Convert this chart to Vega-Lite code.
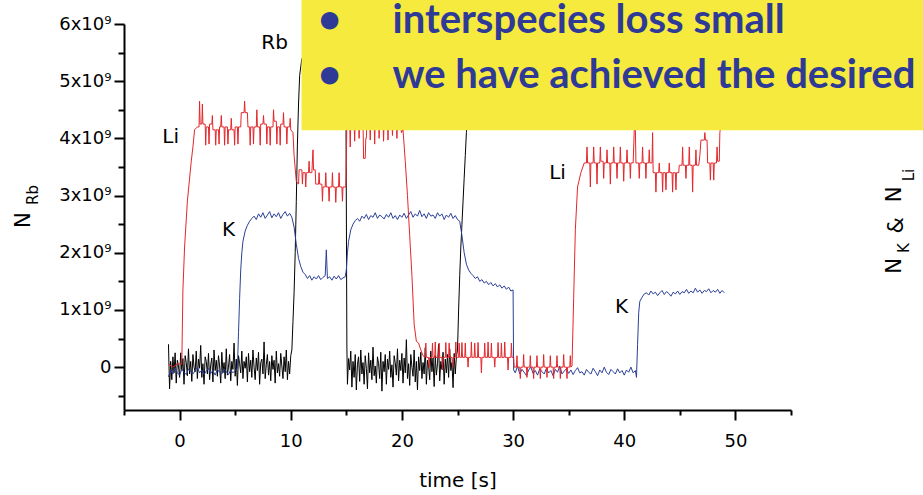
{
"$schema": "https://vega.github.io/schema/vega-lite/v6.json",
"width": 667, "height": 386,
"autosize": {"type": "none"},
"padding": {"left": 124, "top": 24, "right": 132, "bottom": 85},
"background": "white",
"config": {
 "view": {"stroke": null},
 "axis": {"domainColor": "#000", "domainWidth": 2, "tickColor": "#000", "tickWidth": 2, "labelFont": "DejaVu Sans", "labelFontSize": 18, "labelColor": "#000", "titleFont": "DejaVu Sans", "titleFontSize": 20, "titleFontWeight": "normal", "titleColor": "#000", "grid": false, "labelOverlap": false, "labelFlush": false, "labelBound": false}
},
"datasets": {
 "rb": [{"t":-1,"v":0.4e9},{"t":-0.9,"v":-0.38e9},{"t":-0.8,"v":0.1e9},{"t":-0.7,"v":-0.22e9},{"t":-0.6,"v":0.18e9},{"t":-0.5,"v":-0.1e9},{"t":-0.4,"v":0.25e9},{"t":-0.3,"v":-0.28e9},{"t":-0.2,"v":0.12e9},{"t":-0.1,"v":0.02e9},{"t":0,"v":-0.18e9},{"t":0.1,"v":0.25e9},{"t":0.2,"v":-0.05e9},{"t":0.3,"v":0.15e9},{"t":0.4,"v":-0.3e9},{"t":0.5,"v":0.2e9},{"t":0.6,"v":0.08e9},{"t":0.7,"v":-0.15e9},{"t":0.8,"v":0.32e9},{"t":0.9,"v":-0.12e9},{"t":1,"v":0.1e9},{"t":1.1,"v":-0.25e9},{"t":1.2,"v":0.22e9},{"t":1.3,"v":0},{"t":1.4,"v":-0.08e9},{"t":1.5,"v":0.28e9},{"t":1.6,"v":-0.2e9},{"t":1.7,"v":0.14e9},{"t":1.8,"v":-0.02e9},{"t":1.9,"v":0.38e9},{"t":2,"v":-0.18e9},{"t":2.1,"v":0.06e9},{"t":2.2,"v":-0.3e9},{"t":2.3,"v":0.18e9},{"t":2.4,"v":0.1e9},{"t":2.5,"v":-0.12e9},{"t":2.6,"v":0.24e9},{"t":2.7,"v":-0.22e9},{"t":2.8,"v":0.04e9},{"t":2.9,"v":0.16e9},{"t":3,"v":-0.26e9},{"t":3.1,"v":0.3e9},{"t":3.2,"v":-0.06e9},{"t":3.3,"v":0.12e9},{"t":3.4,"v":-0.16e9},{"t":3.5,"v":0.2e9},{"t":3.6,"v":0.02e9},{"t":3.7,"v":-0.28e9},{"t":3.8,"v":0.26e9},{"t":3.9,"v":-0.1e9},{"t":4,"v":0.08e9},{"t":4.1,"v":-0.2e9},{"t":4.2,"v":0.32e9},{"t":4.3,"v":-0.14e9},{"t":4.4,"v":0},{"t":4.5,"v":0.22e9},{"t":4.6,"v":-0.24e9},{"t":4.7,"v":0.1e9},{"t":4.8,"v":-0.04e9},{"t":4.9,"v":0.42e9},{"t":5,"v":-0.16e9},{"t":5.1,"v":0.14e9},{"t":5.2,"v":-0.32e9},{"t":5.3,"v":0.2e9},{"t":5.4,"v":0.06e9},{"t":5.5,"v":-0.1e9},{"t":5.6,"v":0.28e9},{"t":5.7,"v":-0.2e9},{"t":5.8,"v":0.1e9},{"t":5.9,"v":-0.02e9},{"t":6,"v":0.18e9},{"t":6.1,"v":-0.26e9},{"t":6.2,"v":0.24e9},{"t":6.3,"v":-0.08e9},{"t":6.4,"v":0.12e9},{"t":6.5,"v":-0.18e9},{"t":6.6,"v":0.3e9},{"t":6.7,"v":0},{"t":6.8,"v":-0.22e9},{"t":6.9,"v":0.16e9},{"t":7,"v":-0.06e9},{"t":7.1,"v":0.26e9},{"t":7.2,"v":-0.3e9},{"t":7.3,"v":0.08e9},{"t":7.4,"v":0.14e9},{"t":7.5,"v":-0.12e9},{"t":7.6,"v":0.44e9},{"t":7.7,"v":-0.2e9},{"t":7.8,"v":0.04e9},{"t":7.9,"v":0.22e9},{"t":8,"v":-0.14e9},{"t":8.1,"v":0.1e9},{"t":8.2,"v":-0.24e9},{"t":8.3,"v":0.2e9},{"t":8.4,"v":-0.04e9},{"t":8.5,"v":0.12e9},{"t":8.6,"v":-0.28e9},{"t":8.7,"v":0.28e9},{"t":8.8,"v":-0.1e9},{"t":8.9,"v":0.06e9},{"t":9,"v":-0.16e9},{"t":9.1,"v":0.24e9},{"t":9.2,"v":0.02e9},{"t":9.3,"v":-0.2e9},{"t":9.4,"v":0.18e9},{"t":9.5,"v":-0.08e9},{"t":9.6,"v":0.3e9},{"t":9.7,"v":-0.22e9},{"t":9.8,"v":0.1e9},{"t":9.9,"v":-0.12e9},{"t":10,"v":0.2e9},{"t":10.1,"v":0.3e9},{"t":10.2,"v":0.8e9},{"t":10.3,"v":1.3e9},{"t":10.4,"v":2e9},{"t":10.5,"v":2.9e9},{"t":10.6,"v":3.9e9},{"t":10.7,"v":4.6e9},{"t":10.8,"v":5.1e9},{"t":11,"v":5.4e9},{"t":14.95,"v":5.4e9},{"t":15.05,"v":0.35e9},
  {"t":15.1,"v":-0.3e9},{"t":15.2,"v":0.15e9},{"t":15.3,"v":-0.05e9},{"t":15.4,"v":0.28e9},{"t":15.5,"v":-0.35e9},{"t":15.6,"v":0.1e9},{"t":15.7,"v":-0.18e9},{"t":15.8,"v":0.22e9},{"t":15.9,"v":-0.4e9},{"t":16,"v":0.05e9},{"t":16.1,"v":0.18e9},{"t":16.2,"v":-0.25e9},{"t":16.3,"v":0.3e9},{"t":16.4,"v":-0.12e9},{"t":16.5,"v":0.08e9},{"t":16.6,"v":-0.3e9},{"t":16.7,"v":0.2e9},{"t":16.8,"v":-0.02e9},{"t":16.9,"v":-0.38e9},{"t":17,"v":0.25e9},{"t":17.1,"v":-0.1e9},{"t":17.2,"v":0.12e9},{"t":17.3,"v":-0.22e9},{"t":17.4,"v":0.35e9},{"t":17.5,"v":-0.15e9},{"t":17.6,"v":0.02e9},{"t":17.7,"v":-0.28e9},{"t":17.8,"v":0.18e9},{"t":17.9,"v":0.06e9},{"t":18,"v":-0.2e9},{"t":18.1,"v":0.26e9},{"t":18.2,"v":-0.42e9},{"t":18.3,"v":0.1e9},{"t":18.4,"v":-0.08e9},{"t":18.5,"v":0.22e9},{"t":18.6,"v":-0.3e9},{"t":18.7,"v":0.14e9},{"t":18.8,"v":-0.04e9},{"t":18.9,"v":0.28e9},{"t":19,"v":-0.18e9},{"t":19.1,"v":0.04e9},{"t":19.2,"v":-0.35e9},{"t":19.3,"v":0.2e9},{"t":19.4,"v":0.08e9},{"t":19.5,"v":-0.14e9},{"t":19.6,"v":0.32e9},{"t":19.7,"v":-0.24e9},{"t":19.8,"v":0.12e9},{"t":19.9,"v":-0.06e9},{"t":20,"v":0.24e9},{"t":20.1,"v":-0.28e9},{"t":20.2,"v":0.16e9},{"t":20.3,"v":-0.1e9},{"t":20.4,"v":0.48e9},{"t":20.5,"v":-0.2e9},{"t":20.6,"v":0.06e9},{"t":20.7,"v":-0.32e9},{"t":20.8,"v":0.22e9},{"t":20.9,"v":0},{"t":21,"v":-0.16e9},{"t":21.1,"v":0.3e9},{"t":21.2,"v":-0.26e9},{"t":21.3,"v":0.1e9},{"t":21.4,"v":-0.4e9},{"t":21.5,"v":0.18e9},{"t":21.6,"v":-0.06e9},{"t":21.7,"v":0.26e9},{"t":21.8,"v":-0.2e9},{"t":21.9,"v":0.08e9},{"t":22,"v":-0.12e9},{"t":22.1,"v":0.34e9},{"t":22.2,"v":-0.3e9},{"t":22.3,"v":0.12e9},{"t":22.4,"v":0.02e9},{"t":22.5,"v":-0.22e9},{"t":22.6,"v":0.28e9},{"t":22.7,"v":-0.08e9},{"t":22.8,"v":0.16e9},{"t":22.9,"v":-0.34e9},{"t":23,"v":0.2e9},{"t":23.1,"v":-0.14e9},{"t":23.2,"v":0.06e9},{"t":23.3,"v":0.4e9},{"t":23.4,"v":-0.24e9},{"t":23.5,"v":0.1e9},{"t":23.6,"v":-0.04e9},{"t":23.7,"v":0.26e9},{"t":23.8,"v":-0.3e9},{"t":23.9,"v":0.14e9},{"t":24,"v":-0.1e9},{"t":24.1,"v":0.22e9},{"t":24.2,"v":-0.18e9},{"t":24.3,"v":0.32e9},{"t":24.4,"v":-0.06e9},{"t":24.5,"v":0.08e9},{"t":24.6,"v":-0.36e9},{"t":24.7,"v":0.24e9},{"t":24.8,"v":-0.12e9},{"t":24.9,"v":0.18e9},{"t":25,"v":0.3e9},{"t":25.1,"v":1e9},{"t":25.2,"v":1.6e9},{"t":25.3,"v":2.1e9},{"t":25.4,"v":2.5e9},{"t":25.5,"v":2.9e9},{"t":25.6,"v":3.3e9},{"t":25.7,"v":3.7e9},{"t":25.8,"v":4.1e9},{"t":25.9,"v":4.5e9},{"t":26.1,"v":5e9},{"t":26.5,"v":5.4e9},{"t":49,"v":5.4e9}],
 "k": [{"t":-1,"v":-0.17e7},{"t":-0.8,"v":-0.05e7},{"t":-0.6,"v":-0.12e7},{"t":-0.4,"v":-0.02e7},{"t":-0.2,"v":-0.1e7},{"t":0,"v":-0.14e7},{"t":0.2,"v":-0.04e7},{"t":0.4,"v":-0.09e7},{"t":0.6,"v":-0.13e7},{"t":0.8,"v":-0.03e7},{"t":1,"v":-0.08e7},{"t":1.2,"v":-0.12e7},{"t":1.4,"v":-0.06e7},{"t":1.6,"v":0},{"t":1.8,"v":-0.1e7},{"t":2,"v":-0.05e7},{"t":2.2,"v":-0.13e7},{"t":2.4,"v":-0.07e7},{"t":2.6,"v":-0.02e7},{"t":2.8,"v":-0.11e7},{"t":3,"v":-0.06e7},{"t":3.2,"v":-0.14e7},{"t":3.4,"v":-0.04e7},{"t":3.6,"v":-0.09e7},{"t":3.8,"v":-0.12e7},{"t":4,"v":-0.03e7},{"t":4.2,"v":-0.08e7},{"t":4.4,"v":-0.13e7},{"t":4.6,"v":-0.05e7},{"t":4.8,"v":-0.1e7},{"t":5,"v":-0.06e7},{"t":5.2,"v":-0.02e7},{"t":5.3,"v":0.6e7},{"t":5.4,"v":1.2e7},{"t":5.5,"v":1.7e7},{"t":5.6,"v":2e7},{"t":5.7,"v":2.2e7},{"t":5.9,"v":2.38e7},{"t":6.1,"v":2.48e7},{"t":6.3,"v":2.55e7},{"t":6.5,"v":2.6e7},{"t":6.7,"v":2.64e7},{"t":6.9,"v":2.58e7},{"t":7.1,"v":2.68e7},{"t":7.3,"v":2.62e7},{"t":7.5,"v":2.7e7},{"t":7.7,"v":2.6e7},{"t":7.9,"v":2.66e7},{"t":8.1,"v":2.72e7},{"t":8.3,"v":2.61e7},{"t":8.5,"v":2.68e7},{"t":8.7,"v":2.63e7},{"t":8.9,"v":2.7e7},{"t":9.1,"v":2.6e7},{"t":9.3,"v":2.67e7},{"t":9.5,"v":2.72e7},{"t":9.7,"v":2.64e7},{"t":9.9,"v":2.69e7},{"t":10.1,"v":2.62e7},{"t":10.3,"v":2.45e7},{"t":10.5,"v":2.15e7},{"t":10.7,"v":1.9e7},{"t":10.9,"v":1.76e7},{"t":11.1,"v":1.66e7},{"t":11.3,"v":1.62e7},{"t":11.5,"v":1.55e7},{"t":11.7,"v":1.6e7},{"t":11.9,"v":1.52e7},{"t":12.1,"v":1.58e7},{"t":12.3,"v":1.54e7},{"t":12.5,"v":1.6e7},{"t":12.7,"v":1.53e7},{"t":12.9,"v":1.57e7},{"t":13.1,"v":1.6e7},{"t":13.2,"v":2.05e7},{"t":13.3,"v":1.55e7},{"t":13.5,"v":1.58e7},{"t":13.7,"v":1.52e7},{"t":13.9,"v":1.59e7},{"t":14.1,"v":1.54e7},{"t":14.3,"v":1.6e7},{"t":14.5,"v":1.53e7},{"t":14.7,"v":1.56e7},{"t":14.9,"v":1.58e7},{"t":15,"v":1.7e7},{"t":15.1,"v":2e7},{"t":15.2,"v":2.2e7},{"t":15.4,"v":2.4e7},{"t":15.6,"v":2.5e7},{"t":15.8,"v":2.56e7},{"t":16,"v":2.6e7},{"t":16.2,"v":2.55e7},{"t":16.4,"v":2.64e7},{"t":16.6,"v":2.6e7},{"t":16.8,"v":2.67e7},{"t":17,"v":2.58e7},{"t":17.2,"v":2.65e7},{"t":17.4,"v":2.62e7},{"t":17.6,"v":2.7e7},{"t":17.8,"v":2.6e7},{"t":18,"v":2.66e7},{"t":18.2,"v":2.63e7},{"t":18.4,"v":2.59e7},{"t":18.6,"v":2.67e7},{"t":18.8,"v":2.62e7},{"t":19,"v":2.7e7},{"t":19.2,"v":2.6e7},{"t":19.4,"v":2.65e7},{"t":19.6,"v":2.58e7},{"t":19.8,"v":2.66e7},{"t":20,"v":2.62e7},{"t":20.2,"v":2.69e7},{"t":20.4,"v":2.6e7},{"t":20.6,"v":2.66e7},{"t":20.8,"v":2.72e7},{"t":21,"v":2.62e7},{"t":21.2,"v":2.68e7},{"t":21.4,"v":2.64e7},{"t":21.6,"v":2.74e7},{"t":21.8,"v":2.63e7},{"t":22,"v":2.68e7},{"t":22.2,"v":2.6e7},{"t":22.4,"v":2.7e7},{"t":22.6,"v":2.64e7},{"t":22.8,"v":2.66e7},{"t":23,"v":2.6e7},{"t":23.2,"v":2.7e7},{"t":23.4,"v":2.64e7},{"t":23.6,"v":2.68e7},{"t":23.8,"v":2.58e7},{"t":24,"v":2.66e7},{"t":24.2,"v":2.62e7},{"t":24.4,"v":2.69e7},{"t":24.6,"v":2.6e7},{"t":24.8,"v":2.65e7},{"t":25,"v":2.58e7},{"t":25.2,"v":2.55e7},{"t":25.4,"v":2.3e7},{"t":25.6,"v":2e7},{"t":25.8,"v":1.8e7},{"t":26,"v":1.7e7},{"t":26.2,"v":1.64e7},{"t":26.4,"v":1.6e7},{"t":26.6,"v":1.55e7},{"t":26.8,"v":1.58e7},{"t":27,"v":1.5e7},{"t":27.2,"v":1.53e7},{"t":27.4,"v":1.47e7},{"t":27.6,"v":1.5e7},{"t":27.8,"v":1.44e7},{"t":28,"v":1.48e7},{"t":28.2,"v":1.42e7},{"t":28.4,"v":1.46e7},{"t":28.6,"v":1.4e7},{"t":28.8,"v":1.44e7},{"t":29,"v":1.38e7},{"t":29.2,"v":1.42e7},{"t":29.4,"v":1.36e7},{"t":29.6,"v":1.4e7},{"t":29.8,"v":1.33e7},{"t":30,"v":1.35e7},{"t":30.05,"v":-0.05e7},{"t":30.2,"v":-0.1e7},{"t":30.4,"v":0.02e7},{"t":30.6,"v":-0.12e7},{"t":30.8,"v":-0.04e7},{"t":31,"v":-0.09e7},{"t":31.2,"v":-0.15e7},{"t":31.4,"v":-0.05e7},{"t":31.6,"v":0},{"t":31.8,"v":-0.11e7},{"t":32,"v":-0.06e7},{"t":32.2,"v":-0.14e7},{"t":32.4,"v":-0.03e7},{"t":32.6,"v":-0.08e7},{"t":32.8,"v":-0.12e7},{"t":33,"v":-0.02e7},{"t":33.2,"v":-0.1e7},{"t":33.4,"v":-0.06e7},{"t":33.6,"v":-0.15e7},{"t":33.8,"v":-0.04e7},{"t":34,"v":-0.09e7},{"t":34.2,"v":0.02e7},{"t":34.4,"v":-0.12e7},{"t":34.6,"v":-0.07e7},{"t":34.8,"v":-0.03e7},{"t":35,"v":-0.11e7},{"t":35.2,"v":-0.05e7},{"t":35.4,"v":-0.13e7},{"t":35.6,"v":-0.06e7},{"t":35.8,"v":-0.01e7},{"t":36,"v":-0.1e7},{"t":36.2,"v":-0.08e7},{"t":36.4,"v":-0.14e7},{"t":36.6,"v":-0.04e7},{"t":36.8,"v":-0.09e7},{"t":37,"v":-0.12e7},{"t":37.2,"v":-0.02e7},{"t":37.4,"v":-0.08e7},{"t":37.6,"v":-0.15e7},{"t":37.8,"v":-0.05e7},{"t":38,"v":-0.1e7},{"t":38.2,"v":0},{"t":38.4,"v":-0.09e7},{"t":38.6,"v":-0.13e7},{"t":38.8,"v":-0.04e7},{"t":39,"v":-0.08e7},{"t":39.2,"v":-0.12e7},{"t":39.4,"v":-0.03e7},{"t":39.6,"v":-0.1e7},{"t":39.8,"v":-0.06e7},{"t":40,"v":-0.14e7},{"t":40.2,"v":-0.05e7},{"t":40.4,"v":-0.09e7},{"t":40.6,"v":0},{"t":40.8,"v":-0.1e7},{"t":41,"v":-0.06e7},{"t":41.1,"v":-0.18e7},{"t":41.2,"v":0.4e7},{"t":41.3,"v":0.95e7},{"t":41.4,"v":1.15e7},{"t":41.6,"v":1.22e7},{"t":41.8,"v":1.28e7},{"t":42,"v":1.3e7},{"t":42.2,"v":1.26e7},{"t":42.4,"v":1.33e7},{"t":42.6,"v":1.28e7},{"t":42.8,"v":1.31e7},{"t":43,"v":1.25e7},{"t":43.2,"v":1.3e7},{"t":43.4,"v":1.34e7},{"t":43.6,"v":1.27e7},{"t":43.8,"v":1.32e7},{"t":44,"v":1.29e7},{"t":44.2,"v":1.24e7},{"t":44.4,"v":1.31e7},{"t":44.6,"v":1.28e7},{"t":44.8,"v":1.33e7},{"t":45,"v":1.27e7},{"t":45.2,"v":1.32e7},{"t":45.4,"v":1.3e7},{"t":45.6,"v":1.36e7},{"t":45.8,"v":1.29e7},{"t":46,"v":1.33e7},{"t":46.2,"v":1.3e7},{"t":46.4,"v":1.38e7},{"t":46.6,"v":1.31e7},{"t":46.8,"v":1.35e7},{"t":47,"v":1.29e7},{"t":47.2,"v":1.34e7},{"t":47.4,"v":1.32e7},{"t":47.6,"v":1.37e7},{"t":47.8,"v":1.3e7},{"t":48,"v":1.34e7},{"t":48.2,"v":1.31e7},{"t":48.4,"v":1.36e7},{"t":48.6,"v":1.29e7},{"t":48.8,"v":1.34e7},{"t":49,"v":1.3e7}],
 "li": [{"t":-1,"v":0.05e7},{"t":-0.6,"v":0},{"t":-0.2,"v":0.06e7},{"t":0.2,"v":0.05e7},{"t":0.3,"v":1.35e7},{"t":0.45,"v":2.1e7},{"t":0.7,"v":2.9e7},{"t":1.05,"v":3.6e7},{"t":1.2,"v":3.85e7},{"t":1.35,"v":4.15e7},
  {"t":1.6,"v":4.2e7},{"t":1.75,"v":4.2e7},{"t":1.8,"v":4.65e7},{"t":1.85,"v":4.25e7},{"t":2,"v":4.25e7},{"t":2.05,"v":4.6e7},{"t":2.1,"v":4.25e7},{"t":2.3,"v":4.25e7},{"t":2.35,"v":3.88e7},{"t":2.4,"v":4.2e7},{"t":2.6,"v":4.2e7},{"t":2.65,"v":3.9e7},{"t":2.7,"v":4.25e7},{"t":2.9,"v":4.25e7},{"t":2.95,"v":4.4e7},{"t":3,"v":4.15e7},{"t":3.2,"v":4.15e7},{"t":3.25,"v":3.88e7},{"t":3.3,"v":4.15e7},{"t":3.5,"v":4.15e7},{"t":3.55,"v":3.9e7},{"t":3.6,"v":4.2e7},{"t":3.7,"v":4.2e7},{"t":3.75,"v":4.4e7},{"t":3.8,"v":4.2e7},{"t":4,"v":4.2e7},{"t":4.05,"v":3.88e7},{"t":4.1,"v":4.2e7},{"t":4.3,"v":4.2e7},{"t":4.35,"v":3.9e7},{"t":4.4,"v":4.15e7},{"t":4.6,"v":4.15e7},{"t":4.65,"v":4.35e7},{"t":4.7,"v":4.15e7},{"t":4.9,"v":4.15e7},{"t":4.95,"v":3.88e7},{"t":5,"v":4.2e7},{"t":5.2,"v":4.2e7},{"t":5.25,"v":3.9e7},{"t":5.3,"v":4.2e7},{"t":5.5,"v":4.2e7},{"t":5.55,"v":4.45e7},{"t":5.8,"v":4.45e7},{"t":5.85,"v":4.65e7},{"t":5.9,"v":4.45e7},{"t":6.1,"v":4.45e7},{"t":6.15,"v":4.2e7},{"t":6.3,"v":4.2e7},{"t":6.35,"v":3.88e7},{"t":6.4,"v":4.2e7},{"t":6.6,"v":4.2e7},{"t":6.65,"v":3.9e7},{"t":6.7,"v":4.2e7},{"t":6.9,"v":4.2e7},{"t":6.95,"v":4.5e7},{"t":7,"v":4.2e7},{"t":7.2,"v":4.2e7},{"t":7.25,"v":3.88e7},{"t":7.3,"v":4.25e7},{"t":7.5,"v":4.25e7},{"t":7.55,"v":4.4e7},{"t":7.6,"v":4.25e7},{"t":7.8,"v":4.25e7},{"t":7.85,"v":3.9e7},{"t":7.9,"v":4.2e7},{"t":8.1,"v":4.2e7},{"t":8.15,"v":3.88e7},{"t":8.2,"v":4.2e7},{"t":8.4,"v":4.2e7},{"t":8.45,"v":4.5e7},{"t":8.5,"v":4.3e7},{"t":8.7,"v":4.3e7},{"t":8.75,"v":3.9e7},{"t":8.8,"v":4.2e7},{"t":9,"v":4.2e7},{"t":9.05,"v":3.88e7},{"t":9.1,"v":4.25e7},{"t":9.3,"v":4.25e7},{"t":9.35,"v":4.45e7},{"t":9.4,"v":4.2e7},{"t":9.6,"v":4.2e7},{"t":9.65,"v":3.9e7},{"t":9.7,"v":4.2e7},{"t":9.9,"v":4.2e7},{"t":9.95,"v":4.35e7},{"t":10,"v":4.15e7},{"t":10.2,"v":4.1e7},{"t":10.3,"v":3.7e7},{"t":10.5,"v":3.25e7},{"t":10.7,"v":3.2e7},
  {"t":10.75,"v":3.45e7},{"t":11,"v":3.45e7},{"t":11.05,"v":3.2e7},{"t":11.1,"v":3.4e7},{"t":11.3,"v":3.4e7},{"t":11.35,"v":3.15e7},{"t":11.4,"v":3.4e7},{"t":11.6,"v":3.4e7},{"t":11.65,"v":3.6e7},{"t":11.7,"v":3.4e7},{"t":11.9,"v":3.4e7},{"t":12,"v":3.8e7},{"t":12.05,"v":3.45e7},{"t":12.2,"v":3.45e7},{"t":12.25,"v":3.2e7},{"t":12.5,"v":3.2e7},{"t":12.55,"v":3.4e7},{"t":12.6,"v":3.2e7},{"t":12.8,"v":3.2e7},{"t":12.85,"v":2.9e7},{"t":12.9,"v":3.15e7},{"t":13.1,"v":3.15e7},{"t":13.15,"v":3.4e7},{"t":13.2,"v":3.15e7},{"t":13.4,"v":3.15e7},{"t":13.45,"v":2.9e7},{"t":13.5,"v":3.15e7},{"t":13.7,"v":3.15e7},{"t":13.75,"v":3.4e7},{"t":13.8,"v":3.15e7},{"t":14,"v":3.15e7},{"t":14.05,"v":2.88e7},{"t":14.1,"v":3.15e7},{"t":14.3,"v":3.15e7},{"t":14.35,"v":3.4e7},{"t":14.4,"v":3.15e7},{"t":14.6,"v":3.15e7},{"t":14.65,"v":2.9e7},{"t":14.7,"v":3.15e7},{"t":14.95,"v":3.15e7},{"t":15.05,"v":4.25e7},
  {"t":15.3,"v":4.3e7},{"t":15.35,"v":3.85e7},{"t":15.4,"v":4.3e7},{"t":15.7,"v":4.3e7},{"t":15.75,"v":3.95e7},{"t":15.8,"v":4.3e7},{"t":16.1,"v":4.3e7},{"t":16.15,"v":4e7},{"t":16.2,"v":4.3e7},{"t":16.5,"v":4.3e7},{"t":16.55,"v":3.65e7},{"t":16.7,"v":3.65e7},{"t":16.75,"v":4e7},{"t":16.8,"v":4e7},{"t":16.85,"v":4.3e7},{"t":17.1,"v":4.3e7},{"t":17.15,"v":3.97e7},{"t":17.2,"v":4.3e7},{"t":17.5,"v":4.3e7},{"t":17.55,"v":3.9e7},{"t":17.6,"v":4.3e7},{"t":17.9,"v":4.3e7},{"t":17.95,"v":4e7},{"t":18,"v":4.3e7},{"t":18.3,"v":4.3e7},{"t":18.35,"v":3.95e7},{"t":18.4,"v":4.3e7},{"t":18.7,"v":4.3e7},{"t":18.75,"v":3.97e7},{"t":18.8,"v":4.3e7},{"t":19.1,"v":4.3e7},{"t":19.15,"v":4.05e7},{"t":19.2,"v":4.3e7},{"t":19.5,"v":4.3e7},{"t":19.55,"v":4e7},{"t":19.6,"v":4.3e7},{"t":19.9,"v":4.3e7},{"t":19.95,"v":4.1e7},{"t":20.1,"v":4.15e7},{"t":20.3,"v":3.6e7},{"t":20.5,"v":3e7},{"t":20.7,"v":2.3e7},{"t":20.9,"v":1.6e7},{"t":21.1,"v":0.75e7},{"t":21.3,"v":0.45e7},{"t":21.5,"v":0.42e7},{"t":21.7,"v":0.3e7},{"t":21.9,"v":0.2e7},
  {"t":22.1,"v":0.17e7},{"t":22.15,"v":0.42e7},{"t":22.2,"v":0.17e7},{"t":22.4,"v":0.17e7},{"t":22.45,"v":0},{"t":22.5,"v":0.17e7},{"t":22.7,"v":0.17e7},{"t":22.75,"v":0.42e7},{"t":22.8,"v":0.17e7},{"t":22.95,"v":0.17e7},{"t":23,"v":0.44e7},{"t":23.05,"v":0.17e7},{"t":23.3,"v":0.17e7},{"t":23.35,"v":0.42e7},{"t":23.4,"v":0.17e7},{"t":23.6,"v":0.17e7},{"t":23.65,"v":-0.05e7},{"t":23.7,"v":0.17e7},{"t":23.9,"v":0.17e7},{"t":23.95,"v":0.43e7},{"t":24,"v":0.17e7},{"t":24.2,"v":0.17e7},{"t":24.25,"v":0.42e7},{"t":24.3,"v":0.17e7},{"t":24.5,"v":0.17e7},{"t":24.55,"v":0},{"t":24.6,"v":0.17e7},{"t":24.8,"v":0.17e7},{"t":24.85,"v":0.44e7},{"t":24.9,"v":0.17e7},{"t":25.1,"v":0.17e7},{"t":25.15,"v":0.42e7},{"t":25.2,"v":0.17e7},{"t":25.35,"v":0.17e7},{"t":25.4,"v":0.43e7},{"t":25.45,"v":0.17e7},{"t":25.65,"v":0.17e7},{"t":25.7,"v":0.42e7},{"t":25.75,"v":0.17e7},{"t":25.9,"v":0.17e7},{"t":25.95,"v":0},{"t":26,"v":0.17e7},{"t":26.2,"v":0.17e7},{"t":26.25,"v":0.44e7},{"t":26.3,"v":0.17e7},{"t":26.5,"v":0.17e7},{"t":26.55,"v":0.42e7},{"t":26.6,"v":0.17e7},{"t":26.8,"v":0.17e7},{"t":26.85,"v":0.43e7},{"t":26.9,"v":0.17e7},{"t":27.1,"v":0.17e7},{"t":27.15,"v":-0.1e7},{"t":27.2,"v":0.17e7},{"t":27.4,"v":0.17e7},{"t":27.45,"v":0.42e7},{"t":27.5,"v":0.17e7},{"t":27.7,"v":0.17e7},{"t":27.75,"v":0.44e7},{"t":27.8,"v":0.17e7},{"t":28,"v":0.17e7},{"t":28.05,"v":0.42e7},{"t":28.1,"v":0.17e7},{"t":28.3,"v":0.17e7},{"t":28.35,"v":0},{"t":28.4,"v":0.17e7},{"t":28.6,"v":0.17e7},{"t":28.65,"v":0.43e7},{"t":28.7,"v":0.17e7},{"t":28.9,"v":0.17e7},{"t":28.95,"v":0.42e7},{"t":29,"v":0.17e7},{"t":29.2,"v":0.17e7},{"t":29.25,"v":0.44e7},{"t":29.3,"v":0.17e7},{"t":29.5,"v":0.17e7},{"t":29.55,"v":-0.05e7},{"t":29.6,"v":0.17e7},{"t":29.8,"v":0.17e7},{"t":29.85,"v":0.42e7},{"t":29.9,"v":0.17e7},{"t":30.05,"v":0.17e7},{"t":30.1,"v":0},
  {"t":30.3,"v":0},{"t":30.35,"v":0.2e7},{"t":30.4,"v":0},{"t":30.6,"v":0},{"t":30.65,"v":-0.2e7},{"t":30.7,"v":0},{"t":30.9,"v":0},{"t":30.95,"v":0.22e7},{"t":31,"v":0},{"t":31.2,"v":0},{"t":31.25,"v":-0.18e7},{"t":31.3,"v":0},{"t":31.5,"v":0},{"t":31.55,"v":0.2e7},{"t":31.6,"v":0},{"t":31.8,"v":0},{"t":31.85,"v":-0.2e7},{"t":31.9,"v":0},{"t":32.1,"v":0},{"t":32.15,"v":0.2e7},{"t":32.2,"v":0},{"t":32.4,"v":0},{"t":32.45,"v":-0.2e7},{"t":32.5,"v":0},{"t":32.7,"v":0},{"t":32.75,"v":0.22e7},{"t":32.8,"v":0},{"t":33,"v":0},{"t":33.05,"v":-0.18e7},{"t":33.1,"v":0},{"t":33.3,"v":0},{"t":33.35,"v":0.2e7},{"t":33.4,"v":0},{"t":33.6,"v":0},{"t":33.65,"v":-0.2e7},{"t":33.7,"v":0},{"t":33.9,"v":0},{"t":33.95,"v":0.2e7},{"t":34,"v":0},{"t":34.2,"v":0},{"t":34.25,"v":-0.2e7},{"t":34.3,"v":0},{"t":34.5,"v":0},{"t":34.55,"v":0.22e7},{"t":34.6,"v":0},{"t":34.8,"v":0},{"t":34.85,"v":-0.2e7},{"t":34.9,"v":0},{"t":35.1,"v":0},{"t":35.15,"v":0.2e7},{"t":35.2,"v":0},{"t":35.3,"v":0.02e7},{"t":35.45,"v":1.2e7},{"t":35.6,"v":2.4e7},{"t":35.8,"v":3.15e7},{"t":36.1,"v":3.4e7},{"t":36.4,"v":3.57e7},
  {"t":36.6,"v":3.57e7},{"t":36.65,"v":3.85e7},{"t":36.7,"v":3.57e7},{"t":36.9,"v":3.57e7},{"t":36.95,"v":3.15e7},{"t":37,"v":3.57e7},{"t":37.2,"v":3.57e7},{"t":37.25,"v":3.85e7},{"t":37.3,"v":3.57e7},{"t":37.5,"v":3.57e7},{"t":37.55,"v":3.2e7},{"t":37.6,"v":3.57e7},{"t":37.8,"v":3.57e7},{"t":37.85,"v":3.85e7},{"t":37.9,"v":3.6e7},{"t":38.1,"v":3.6e7},{"t":38.15,"v":3.3e7},{"t":38.2,"v":3.57e7},{"t":38.4,"v":3.57e7},{"t":38.45,"v":3.8e7},{"t":38.5,"v":3.57e7},{"t":38.7,"v":3.57e7},{"t":38.75,"v":3.2e7},{"t":38.8,"v":3.57e7},{"t":39,"v":3.57e7},{"t":39.05,"v":3.85e7},{"t":39.1,"v":3.57e7},{"t":39.3,"v":3.57e7},{"t":39.35,"v":3.3e7},{"t":39.4,"v":3.57e7},{"t":39.6,"v":3.57e7},{"t":39.65,"v":3.85e7},{"t":39.7,"v":3.57e7},{"t":39.9,"v":3.57e7},{"t":39.95,"v":3.25e7},{"t":40,"v":3.57e7},{"t":40.2,"v":3.57e7},{"t":40.25,"v":3.8e7},{"t":40.3,"v":3.57e7},{"t":40.5,"v":3.57e7},{"t":40.55,"v":3.3e7},{"t":40.6,"v":3.57e7},{"t":40.8,"v":3.57e7},{"t":40.85,"v":3.85e7},{"t":40.9,"v":4.15e7},{"t":41,"v":4.15e7},{"t":41.05,"v":3.57e7},{"t":41.3,"v":3.57e7},{"t":41.35,"v":3.3e7},{"t":41.4,"v":3.57e7},{"t":41.6,"v":3.57e7},{"t":41.65,"v":3.85e7},{"t":41.7,"v":3.57e7},{"t":41.9,"v":3.57e7},{"t":41.95,"v":3.3e7},{"t":42,"v":3.57e7},{"t":42.2,"v":3.57e7},{"t":42.25,"v":3.8e7},{"t":42.3,"v":3.57e7},{"t":42.5,"v":3.57e7},{"t":42.55,"v":4.1e7},{"t":42.6,"v":3.4e7},
  {"t":42.8,"v":3.4e7},{"t":42.85,"v":3.06e7},{"t":42.9,"v":3.4e7},{"t":43.1,"v":3.4e7},{"t":43.15,"v":3.57e7},{"t":43.2,"v":3.4e7},{"t":43.4,"v":3.4e7},{"t":43.45,"v":3.06e7},{"t":43.5,"v":3.4e7},{"t":43.7,"v":3.4e7},{"t":43.75,"v":3.1e7},{"t":43.8,"v":3.4e7},{"t":44,"v":3.4e7},{"t":44.05,"v":3.57e7},{"t":44.1,"v":3.4e7},{"t":44.3,"v":3.4e7},{"t":44.35,"v":3.06e7},{"t":44.4,"v":3.4e7},{"t":44.6,"v":3.4e7},{"t":44.65,"v":3.1e7},{"t":44.7,"v":3.4e7},{"t":44.9,"v":3.4e7},{"t":44.95,"v":3.53e7},{"t":45.2,"v":3.53e7},{"t":45.25,"v":3.85e7},{"t":45.3,"v":3.53e7},{"t":45.5,"v":3.53e7},{"t":45.55,"v":3.3e7},{"t":45.6,"v":3.53e7},{"t":45.8,"v":3.53e7},{"t":45.85,"v":3.85e7},{"t":45.9,"v":3.53e7},{"t":46.1,"v":3.53e7},{"t":46.15,"v":3.06e7},{"t":46.2,"v":3.53e7},{"t":46.4,"v":3.53e7},{"t":46.45,"v":3.8e7},{"t":46.5,"v":3.53e7},{"t":46.7,"v":3.53e7},{"t":46.8,"v":3.7e7},{"t":46.9,"v":3.97e7},{"t":47.2,"v":3.97e7},{"t":47.25,"v":4.1e7},{"t":47.3,"v":3.97e7},{"t":47.45,"v":3.97e7},{"t":47.5,"v":3.57e7},{"t":47.7,"v":3.57e7},{"t":47.75,"v":3.27e7},{"t":47.8,"v":3.57e7},{"t":48,"v":3.57e7},{"t":48.05,"v":3.27e7},{"t":48.1,"v":3.57e7},{"t":48.3,"v":3.57e7},{"t":48.35,"v":3.85e7},{"t":48.4,"v":3.6e7},{"t":48.55,"v":3.6e7},{"t":48.6,"v":4.1e7},{"t":48.8,"v":4.4e7},{"t":49,"v":4.5e7}],
 "labels": [{"t":-0.8,"v":4.02e7,"label":"Li"},{"t":4.4,"v":2.4e7,"label":"K"},{"t":8.55,"v":5.66e7,"label":"Rb"},{"t":34,"v":3.39e7,"label":"Li"},{"t":39.75,"v":1.05e7,"label":"K"}],
 "titles": [{"t":-14.03,"v":2.57e7,"text":"N","part":"main"},{"t":-13.2,"v":3.01e7,"text":"Rb","part":"sub"},{"t":64.4,"v":1.77e7,"text":"N","part":"main"},{"t":65.2,"v":2.08e7,"text":"K","part":"sub"},{"t":64.5,"v":2.48e7,"text":"&","part":"main"},{"t":64.4,"v":3.02e7,"text":"N","part":"main"},{"t":65.65,"v":3.36e7,"text":"Li","part":"sub"}],
 "box": [{"t":10.97,"t2":70,"v":4.143e7,"v2":7e7}],
 "notes": [{"t":12.45,"v":5.84e7,"text":"•"},{"t":19.15,"v":5.84e7,"text":"interspecies loss small"},{"t":12.45,"v":4.88e7,"text":"•"},{"t":19.15,"v":4.88e7,"text":"we have achieved the desired"}]
},
"encoding": {
 "x": {"field": "t", "type": "quantitative", "scale": {"domain": [-5, 55], "nice": false, "zero": false},
  "axis": {"values": [-5,0,5,10,15,20,25,30,35,40,45,50,55], "labelExpr": "datum.value % 10 === 0 ? datum.label : ''", "tickSize": {"condition": {"test": "datum.value % 10 !== 0", "value": 5}, "value": 10}, "labelPadding": 12, "title": "time [s]", "titlePadding": 20}}
},
"layer": [
 {"data": {"name": "rb"}, "mark": {"type": "line", "color": "#000000", "strokeWidth": 1},
  "encoding": {"y": {"field": "v", "type": "quantitative", "scale": {"domain": [-0.75e9, 6e9], "nice": false, "zero": false},
   "axis": {"orient": "left", "title": null, "values": [-5e8,0,5e8,1e9,1.5e9,2e9,2.5e9,3e9,3.5e9,4e9,4.5e9,5e9,5.5e9,6e9], "labelExpr": "datum.value === 0 ? '0' : (datum.value % 1e9 === 0 ? (datum.value / 1e9) + 'x10⁹' : '')", "tickSize": {"condition": {"test": "datum.value % 1e9 !== 0", "value": 6}, "value": 10}, "labelPadding": 3}}}},
 {"layer": [
  {"data": {"name": "k"}, "mark": {"type": "line", "color": "#2B3F98", "strokeWidth": 1},
   "encoding": {"y": {"field": "v", "type": "quantitative", "scale": {"domain": [-0.75e7, 6e7], "nice": false, "zero": false},
    "axis": {"orient": "right", "title": null, "values": [-5e6,0,5e6,1e7,1.5e7,2e7,2.5e7,3e7,3.5e7,4e7,4.5e7,5e7,5.5e7,6e7], "labelExpr": "datum.value === 0 ? '0' : (datum.value % 1e7 === 0 ? (datum.value / 1e7) + 'x10⁷' : '')", "tickSize": {"condition": {"test": "datum.value % 1e7 !== 0", "value": 6}, "value": 10}, "labelPadding": 4}}}},
  {"data": {"name": "li"}, "mark": {"type": "line", "color": "#E3262B", "strokeWidth": 1},
   "encoding": {"y": {"field": "v", "type": "quantitative", "scale": {"domain": [-0.75e7, 6e7], "nice": false, "zero": false}, "axis": null}}},
  {"data": {"name": "labels"}, "mark": {"type": "text", "font": "DejaVu Sans", "fontSize": 20, "color": "#000", "align": "center", "baseline": "middle"},
   "encoding": {"y": {"field": "v", "type": "quantitative", "scale": {"domain": [-0.75e7, 6e7], "nice": false, "zero": false}, "axis": null}, "text": {"field": "label"}}},
  {"data": {"name": "titles"}, "transform": [{"filter": "datum.part === 'main'"}], "mark": {"type": "text", "font": "DejaVu Sans", "fontSize": 21, "angle": 270, "color": "#000", "align": "center", "baseline": "middle"},
   "encoding": {"y": {"field": "v", "type": "quantitative", "scale": {"domain": [-0.75e7, 6e7], "nice": false, "zero": false}, "axis": null}, "text": {"field": "text"}}},
  {"data": {"name": "titles"}, "transform": [{"filter": "datum.part === 'sub'"}], "mark": {"type": "text", "font": "DejaVu Sans", "fontSize": 15, "angle": 270, "color": "#000", "align": "center", "baseline": "middle"},
   "encoding": {"y": {"field": "v", "type": "quantitative", "scale": {"domain": [-0.75e7, 6e7], "nice": false, "zero": false}, "axis": null}, "text": {"field": "text"}}},
  {"data": {"name": "box"}, "mark": {"type": "rect", "color": "#F5EA3D", "opacity": 1},
   "encoding": {"x2": {"field": "t2"}, "y": {"field": "v", "type": "quantitative", "scale": {"domain": [-0.75e7, 6e7], "nice": false, "zero": false}, "axis": null}, "y2": {"field": "v2"}}},
  {"data": {"name": "notes"}, "mark": {"type": "text", "font": "Lato", "fontWeight": "bold", "fontSize": 40, "color": "#2E3A96", "align": "left", "baseline": "alphabetic"},
   "encoding": {"y": {"field": "v", "type": "quantitative", "scale": {"domain": [-0.75e7, 6e7], "nice": false, "zero": false}, "axis": null}, "text": {"field": "text"}}}
 ]}
],
"resolve": {"scale": {"y": "independent"}}
}
